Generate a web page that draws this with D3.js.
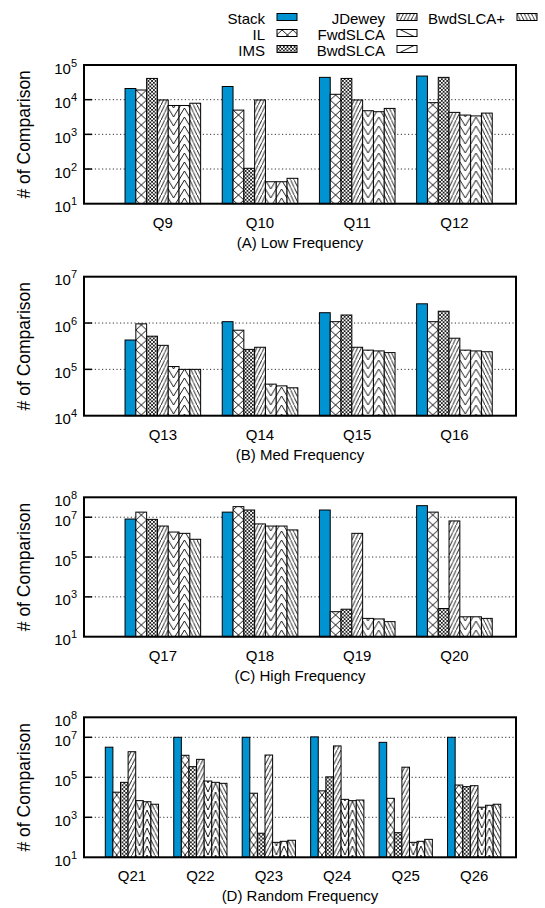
<!DOCTYPE html>
<html>
<head>
<meta charset="utf-8">
<script src="https://cdn.jsdelivr.net/npm/d3@7"></script>
<style>
  body { margin: 0; background: #fff; }
  text { font-family: "Liberation Sans", Arial, Helvetica, sans-serif; fill: #000; }
</style>
</head>
<body>
<div id="chart"></div>
<script>
// series, in bar order
let series = ["Stack", "IL", "IMS", "JDewey", "FwdSLCA", "BwdSLCA", "BwdSLCA+"];

// (A) low frequency
let lowCats = ["Q9", "Q10", "Q11", "Q12"];
let lowVals = [
    [2.1e4, 1.9e4, 4.1e4, 9.8e3, 6.8e3, 6.8e3, 7.9e3],
    [2.4e4, 5.0e3, 105, 9.8e3, 43, 43, 54],
    [4.4e4, 1.43e4, 4.1e4, 9.8e3, 4.8e3, 4.5e3, 5.6e3],
    [4.8e4, 8.2e3, 4.4e4, 4.3e3, 3.6e3, 3.4e3, 4.1e3]];
let lowTicks = [1, 2, 3, 4, 5];

// (B) med frequency
let medCats = ["Q13", "Q14", "Q15", "Q16"];
let medVals = [
    [4.3e5, 9.6e5, 5.2e5, 3.3e5, 1.15e5, 1.0e5, 1.0e5],
    [1.07e6, 7.0e5, 2.7e5, 3.0e5, 4.8e4, 4.4e4, 4.0e4],
    [1.67e6, 1.07e6, 1.49e6, 3.0e5, 2.6e5, 2.5e5, 2.3e5],
    [2.6e6, 1.07e6, 1.8e6, 4.7e5, 2.6e5, 2.5e5, 2.4e5]];
let medTicks = [4, 5, 6, 7];

// (C) high frequency
let highCats = ["Q17", "Q18", "Q19", "Q20"];
let highVals = [
    [8.1e6, 1.8e7, 7.8e6, 3.6e6, 1.8e6, 1.55e6, 7.8e5],
    [1.8e7, 3.4e7, 2.3e7, 4.6e6, 3.6e6, 3.6e6, 2.3e6],
    [2.3e7, 180, 240, 1.55e6, 83, 78, 57],
    [3.8e7, 1.8e7, 260, 6.5e6, 100, 100, 83]];
let highTicks = [1, 3, 5, 7, 8];

// (D) random frequency
let randCats = ["Q21", "Q22", "Q23", "Q24", "Q25", "Q26"];
let randVals = [
    [3.2e6, 1.8e4, 5.6e4, 1.9e6, 6.8e3, 6.0e3, 4.5e3],
    [1.0e7, 1.26e6, 3.4e5, 7.9e5, 6.5e4, 5.6e4, 5.0e4],
    [1.0e7, 1.6e4, 160, 1.3e6, 56, 63, 71],
    [1.05e7, 2.1e4, 1.05e5, 3.7e6, 7.9e3, 6.8e3, 7.3e3],
    [5.6e6, 8.9e3, 170, 3.2e5, 56, 63, 79],
    [1.0e7, 4.1e4, 3.4e4, 3.8e4, 3.2e3, 4.0e3, 4.5e3]];
let randTicks = [1, 3, 5, 7, 8];

let width = 545;
let height = 908;
let left = 84, right = 516;

let panels = [
    {cats: lowCats, vals: lowVals, ticks: lowTicks, title: "(A) Low Frequency", top: 65, bottom: 203.7, slots: [-3.8, 36.2]},
    {cats: medCats, vals: medVals, ticks: medTicks, title: "(B) Med Frequency", top: 276.7, bottom: 415.7, slots: [-3.8, 36.2]},
    {cats: highCats, vals: highVals, ticks: highTicks, title: "(C) High Frequency", top: 497.3, bottom: 636.7, slots: [-3.8, 36.2]},
    {cats: randCats, vals: randVals, ticks: randTicks, title: "(D) Random Frequency", top: 717.3, bottom: 857.3, slots: [-2.8, 54]}
];

let svg = d3.select("#chart")
    .append("svg")
    .attr("width", width)
    .attr("height", height);

let defs = svg.append("defs");

// hatch patterns, one set per panel so the tiles line up with the bars
function addPatterns(id, w, x0) {
    function pat(name, pw, ph, d, sw) {
        let p = defs.append("pattern")
            .attr("id", id + name)
            .attr("patternUnits", "userSpaceOnUse")
            .attr("x", x0).attr("y", 0)
            .attr("width", pw).attr("height", ph);
        p.append("rect").attr("width", pw).attr("height", ph).attr("fill", "#fff");
        p.append("path").attr("d", d).attr("stroke", "#000")
            .attr("stroke-width", sw).attr("fill", "none");
    }
    let n = Math.max(2, Math.round(w / 3.6));
    let f = w / n;
    pat("IL", w, 10, `M0,0L${w},10M${w},0L0,10`, 0.9);
    pat("IMS", f, f, `M0,0L${f},${f}M${f},0L0,${f}`, 0.8);
    pat("JDewey", f, 7.5, `M0,7.5L${f},0`, 0.9);
    pat("FwdSLCA", w, 9, `M0,0L${w / 2},9L${w},0`, 0.9);
    pat("BwdSLCA", w, 9, `M0,9L${w / 2},0L${w},9`, 0.9);
    pat("BwdSLCA+", f, 7.5, `M0,0L${f},7.5`, 0.9);
}

function fillFor(id, i) {
    if (i === 0) return "#0093d2";
    return "url(#" + id + series[i] + ")";
}

function supLabel(sel, e) {
    sel.append("tspan").text("10");
    sel.append("tspan").text(e)
        .style("font-size", "11px")
        .attr("dy", -7);
}

panels.forEach(function(p, pi) {
    let id = "p" + pi;
    let x = d3.scaleLinear().domain(p.slots).range([left, right]);
    let y = d3.scaleLog()
        .domain([Math.pow(10, p.ticks[0]), Math.pow(10, p.ticks[p.ticks.length - 1])])
        .range([p.bottom, p.top]);
    let bw = x(1) - x(0);
    addPatterns(id, bw, x(0));

    let g = svg.append("g");
    let inner = p.ticks.slice(1, -1);

    // dotted grid
    g.selectAll(".grid")
        .data(inner)
        .enter().append("line")
        .attr("x1", left).attr("x2", right)
        .attr("y1", d => y(Math.pow(10, d)))
        .attr("y2", d => y(Math.pow(10, d)))
        .attr("stroke", "#333")
        .attr("stroke-width", 1)
        .attr("stroke-dasharray", "1.2,2.4");

    // bars
    let groups = g.selectAll(".grp")
        .data(p.vals)
        .enter().append("g");

    groups.selectAll("rect")
        .data((d, gi) => d.map((v, si) => ({v: v, si: si, gi: gi})))
        .enter().append("rect")
        .attr("x", d => x(d.gi * 9 + d.si))
        .attr("width", bw)
        .attr("y", d => y(d.v))
        .attr("height", d => p.bottom - y(d.v))
        .attr("fill", d => fillFor(id, d.si))
        .attr("stroke", "#000")
        .attr("stroke-width", 1);

    // ticks
    g.selectAll(".tick")
        .data(inner)
        .enter().append("line")
        .attr("x1", left).attr("x2", left + 8)
        .attr("y1", d => y(Math.pow(10, d)))
        .attr("y2", d => y(Math.pow(10, d)))
        .attr("stroke", "#000")
        .attr("stroke-width", 1.5);

    // frame
    g.append("rect")
        .attr("x", left).attr("y", p.top)
        .attr("width", right - left).attr("height", p.bottom - p.top)
        .attr("fill", "none")
        .attr("stroke", "#000")
        .attr("stroke-width", 2);

    // y tick labels
    g.selectAll(".ylab")
        .data(p.ticks)
        .enter().append("text")
        .attr("x", 77)
        .attr("y", d => y(Math.pow(10, d)) + 8.5)
        .attr("text-anchor", "end")
        .style("font-size", "15px")
        .each(function(d) { supLabel(d3.select(this), d); });

    // category labels
    g.selectAll(".xlab")
        .data(p.cats)
        .enter().append("text")
        .attr("x", (d, i) => x(i * 9 + 3.5))
        .attr("y", p.bottom + 24)
        .attr("text-anchor", "middle")
        .style("font-size", "15px")
        .text(d => d);

    g.append("text")
        .attr("x", (left + right) / 2)
        .attr("y", p.bottom + 44)
        .attr("text-anchor", "middle")
        .style("font-size", "15px")
        .text(p.title);

    g.append("text")
        .attr("transform", "translate(30," + ((p.top + p.bottom) / 2) + ") rotate(-90)")
        .attr("text-anchor", "middle")
        .style("font-size", "17.5px")
        .text("# of Comparison");
});

// legend
let legendPos = [
    [265, 24], [265, 40], [265, 56],
    [385, 24], [385, 40], [385, 56],
    [505, 24]];

let legendG = svg.selectAll(".legend")
    .data(series)
    .enter().append("g")
    .attr("transform", (d, i) => "translate(" + legendPos[i][0] + "," + legendPos[i][1] + ")");

legendG.append("text")
    .attr("text-anchor", "end")
    .style("font-size", "15px")
    .text(d => d);

legendG.append("rect")
    .attr("x", 12)
    .attr("y", -10.5)
    .attr("width", 20)
    .attr("height", 7)
    .attr("fill", (d, i) => (i === 4 || i === 5) ? "#fff" : fillFor("p0", i))
    .attr("stroke", "#000")
    .attr("stroke-width", 1);

// the two sparse hatches show as a single stroke in the key
legendG.filter((d, i) => i === 4 || i === 5)
    .append("path")
    .attr("d", d => d === "FwdSLCA" ? "M15,-10.5L29,-3.5" : "M15,-3.5L29,-10.5")
    .attr("stroke", "#000")
    .attr("stroke-width", 0.9);
</script>
</body>
</html>
